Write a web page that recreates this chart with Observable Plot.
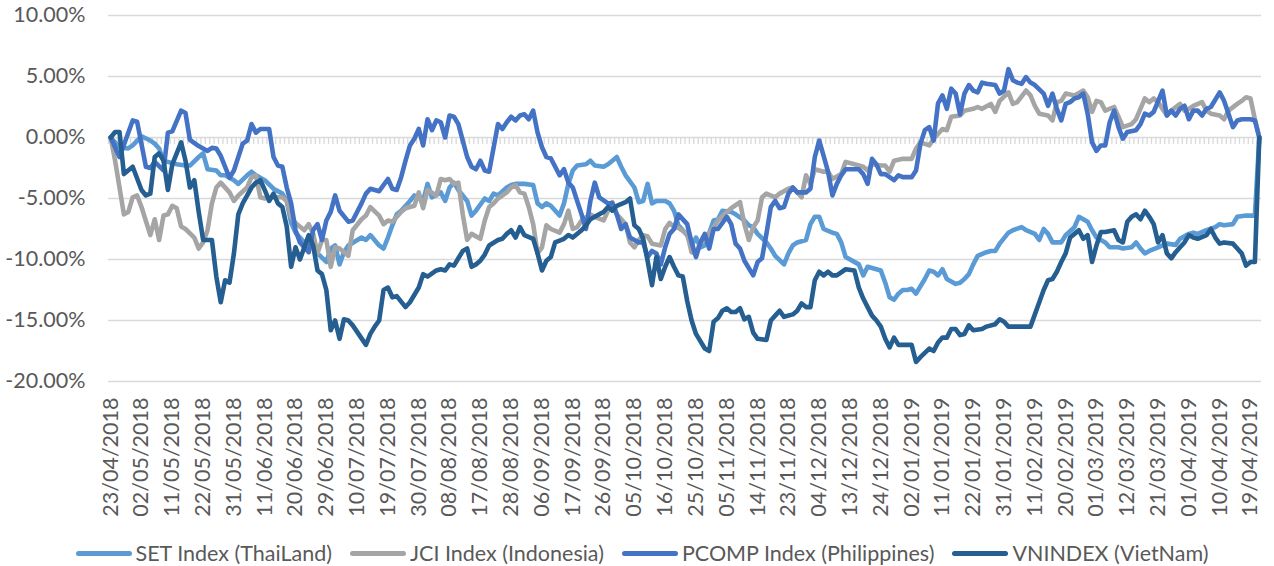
<!DOCTYPE html>
<html><head><meta charset="utf-8">
<script src="https://cdn.jsdelivr.net/npm/d3@7"></script>
<script src="https://cdn.jsdelivr.net/npm/@observablehq/plot@0.6"></script>
<style>
body{margin:0;background:#fff;font-family:Lato, sans-serif;}
#legend{display:flex;justify-content:center;align-items:center;gap:18px;height:40px;margin-top:3px;color:#595959;font-size:21.5px;padding-left:10px;}
.item{display:flex;align-items:center;gap:4px;white-space:nowrap;}
.sw{width:56px;height:5px;border-radius:2.5px;}
</style></head><body>
<div id="chart"></div>
<div id="legend"></div>
<script>
// Category axis: one category per trading day, 23/04/2018 .. 23/04/2019 (262 days); a label every 7th day
const dateLabels = ["23/04/2018","02/05/2018","11/05/2018","22/05/2018","31/05/2018","11/06/2018","20/06/2018","29/06/2018","10/07/2018","19/07/2018","30/07/2018","08/08/2018","17/08/2018","28/08/2018","06/09/2018","17/09/2018","26/09/2018","05/10/2018","16/10/2018","25/10/2018","05/11/2018","14/11/2018","23/11/2018","04/12/2018","13/12/2018","24/12/2018","02/01/2019","11/01/2019","22/01/2019","31/01/2019","11/02/2019","20/02/2019","01/03/2019","12/03/2019","21/03/2019","01/04/2019","10/04/2019","19/04/2019"];
const dayCount = 262;
const seriesNames = ["SET Index (ThaiLand)","JCI Index (Indonesia)","PCOMP Index (Philippines)","VNINDEX (VietNam)"];
const seriesColors = ["#5B9BD5","#A5A5A5","#4472C4","#255E91"];

// [trading-day index, % change]
const setIndex = [[0,0],[2,-0.8],[4,-0.9],[5,-0.65],[7,0.1],[9,-0.25],[10,-0.5],[11,-0.9],[12,-1.9],[13,-2.0],[15,-2.2],[17,-2.3],[18,-2.3],[20,-1.6],[21,-1.3],[22,-2.6],[24,-2.7],[25,-3.1],[26,-3.1],[28,-3.5],[29,-3.8],[31,-3.1],[32,-2.8],[33,-3.1],[35,-3.5],[37,-4.2],[39,-4.6],[40,-5.2],[41,-7.0],[42,-7.8],[43,-8.2],[45,-9.0],[46,-8.3],[47,-9.5],[49,-10.2],[50,-9.1],[51,-8.85],[52,-10.4],[53,-9.4],[54,-8.85],[57,-8.2],[58,-8.4],[59,-8.0],[61,-8.85],[62,-9.1],[63,-8.2],[64,-7.2],[65,-6.3],[66,-6.0],[68,-5.2],[69,-4.75],[71,-5.2],[72,-3.8],[73,-4.9],[75,-4.5],[76,-5.2],[77,-4.1],[78,-3.7],[79,-4.3],[81,-5.2],[82,-6.4],[83,-6.0],[85,-5.0],[86,-5.2],[87,-4.6],[88,-4.75],[90,-4.1],[91,-3.9],[92,-3.8],[94,-3.8],[96,-3.9],[97,-5.4],[98,-5.7],[99,-5.4],[100,-5.6],[102,-6.4],[103,-5.4],[104,-3.8],[105,-2.7],[106,-2.3],[108,-2.2],[109,-1.9],[110,-2.3],[112,-2.4],[113,-2.2],[114,-1.9],[115,-1.6],[116,-2.4],[117,-3.1],[119,-4.1],[120,-5.3],[121,-5.2],[122,-3.8],[123,-5.4],[124,-5.2],[126,-5.2],[127,-5.4],[128,-6.0],[129,-7.2],[131,-8.0],[132,-8.85],[133,-8.2],[134,-9.0],[135,-8.85],[137,-6.8],[138,-6.7],[139,-6.0],[141,-6.1],[142,-6.3],[144,-6.8],[145,-7.2],[146,-7.35],[147,-7.9],[149,-8.6],[150,-9.1],[151,-9.7],[153,-10.4],[154,-9.5],[155,-8.85],[156,-8.6],[158,-8.4],[159,-7.1],[160,-6.5],[161,-6.5],[162,-7.5],[164,-7.8],[165,-7.9],[166,-8.6],[167,-9.8],[170,-10.4],[171,-11.3],[172,-10.6],[174,-10.8],[175,-10.9],[176,-11.9],[177,-13.1],[178,-13.3],[179,-12.8],[180,-12.5],[181,-12.5],[182,-12.4],[183,-12.8],[185,-11.6],[186,-10.9],[187,-11.0],[188,-11.3],[189,-10.8],[190,-11.6],[192,-12.0],[193,-11.9],[194,-11.6],[195,-11.2],[196,-10.4],[197,-9.7],[199,-9.4],[200,-9.3],[201,-9.3],[202,-8.7],[204,-7.8],[205,-7.6],[207,-7.35],[208,-7.6],[210,-7.9],[211,-8.4],[212,-7.5],[213,-7.9],[214,-8.6],[216,-8.6],[217,-8.0],[219,-7.35],[220,-6.5],[222,-6.9],[223,-7.6],[224,-8.2],[225,-8.4],[226,-8.6],[227,-9.0],[229,-9.0],[230,-9.1],[232,-9.0],[233,-8.6],[234,-9.1],[235,-9.5],[236,-9.3],[238,-9.0],[239,-8.85],[240,-8.7],[242,-8.8],[243,-8.3],[245,-7.9],[246,-7.8],[247,-7.9],[249,-7.6],[251,-7.35],[252,-7.1],[253,-7.2],[255,-7.1],[256,-6.5],[258,-6.4],[260,-6.4],[261,0]];

const jciIndex = [[0,0],[1,-1.9],[3,-6.3],[4,-6.1],[5,-4.9],[6,-4.75],[7,-5.7],[9,-8.0],[10,-6.7],[11,-8.4],[12,-6.4],[13,-6.3],[14,-5.6],[15,-5.8],[16,-7.3],[17,-7.5],[19,-8.2],[20,-9.1],[21,-8.6],[22,-7.6],[23,-5.4],[24,-4.1],[25,-3.7],[27,-4.5],[28,-5.2],[29,-4.75],[31,-4.1],[32,-3.25],[33,-3.1],[34,-4.9],[35,-5.0],[37,-4.9],[39,-4.9],[40,-5.2],[41,-6.5],[42,-7.0],[44,-7.6],[45,-7.1],[46,-7.9],[47,-9.5],[48,-8.4],[49,-8.4],[50,-10.6],[51,-9.0],[52,-9.1],[54,-9.7],[55,-7.6],[57,-6.7],[58,-6.4],[59,-5.7],[61,-6.4],[62,-7.1],[63,-6.8],[64,-6.9],[66,-6.1],[67,-5.8],[69,-5.6],[70,-4.5],[71,-5.8],[72,-4.3],[74,-4.75],[75,-3.4],[76,-3.5],[77,-3.4],[78,-3.8],[79,-3.7],[80,-6.3],[81,-8.4],[82,-7.9],[84,-8.3],[85,-6.8],[86,-5.7],[87,-5.4],[88,-5.0],[90,-4.5],[91,-4.1],[92,-3.9],[93,-4.5],[94,-4.6],[95,-5.7],[96,-7.1],[97,-9.5],[98,-9.0],[99,-7.2],[100,-7.5],[102,-7.8],[103,-7.1],[104,-6.0],[105,-7.5],[106,-7.35],[107,-6.8],[109,-6.3],[110,-6.5],[112,-6.8],[113,-6.0],[114,-5.3],[115,-6.3],[117,-7.1],[118,-8.6],[119,-9.0],[120,-8.4],[121,-8.0],[122,-8.1],[123,-8.7],[125,-8.85],[126,-7.5],[127,-7.0],[128,-7.35],[129,-7.4],[131,-7.9],[132,-9.4],[133,-9.5],[134,-8.6],[135,-8.4],[137,-7.35],[138,-6.8],[140,-6.1],[141,-5.8],[143,-5.3],[144,-7.1],[145,-8.4],[146,-7.35],[147,-6.8],[148,-4.9],[149,-4.6],[151,-4.9],[152,-4.6],[154,-4.2],[155,-4.1],[157,-4.9],[158,-3.1],[159,-3.8],[160,-2.6],[162,-2.8],[163,-2.8],[164,-3.4],[166,-3.0],[167,-2.0],[169,-2.2],[171,-2.4],[172,-2.7],[173,-2.2],[175,-2.3],[176,-2.3],[177,-2.8],[178,-1.9],[180,-1.75],[182,-1.75],[183,-0.9],[184,-0.4],[186,-0.65],[187,-0.1],[189,0.7],[190,0.6],[191,1.7],[193,1.8],[194,2.2],[196,2.35],[197,2.5],[198,2.35],[200,2.75],[201,2.1],[202,3.0],[204,3.7],[205,2.75],[206,2.9],[208,3.85],[209,3.45],[210,2.6],[211,1.95],[213,1.8],[214,1.4],[215,2.9],[216,3.0],[217,3.6],[219,3.45],[221,3.85],[222,3.3],[223,2.1],[224,3.0],[225,2.9],[226,2.2],[228,2.5],[229,1.7],[230,0.85],[232,1.1],[233,1.5],[235,3.2],[236,2.9],[237,3.2],[238,2.9],[240,1.8],[241,2.2],[243,2.75],[244,2.2],[245,2.35],[246,2.6],[248,2.9],[249,2.2],[250,1.95],[252,1.8],[253,1.5],[254,2.2],[256,2.75],[257,3.0],[258,3.3],[259,3.2],[260,1.5],[261,0]];

const pcompIndex = [[0,0],[2,-1.6],[5,1.4],[6,1.3],[8,-2.4],[9,-2.5],[10,-2.0],[12,-2.7],[13,0.4],[14,0.5],[16,2.2],[17,2.0],[18,-0.2],[20,-0.7],[22,-1.1],[23,-0.85],[24,-0.9],[25,-1.5],[27,-3.3],[28,-2.7],[29,-1.6],[30,-0.5],[31,-0.25],[32,1.1],[33,0.4],[34,0.7],[36,0.7],[37,-1.6],[38,-2.3],[39,-2.4],[40,-4.1],[41,-5.4],[42,-7.6],[43,-8.6],[45,-9.4],[46,-7.6],[47,-7.1],[48,-8.4],[49,-6.8],[50,-6.1],[51,-4.75],[52,-6.0],[54,-6.9],[55,-6.8],[57,-5.4],[58,-4.6],[59,-4.2],[61,-4.4],[63,-3.4],[64,-4.2],[65,-4.3],[66,-3.25],[67,-1.9],[68,-0.65],[69,-0.1],[70,0.7],[71,-0.65],[72,1.5],[73,0.6],[74,1.4],[75,1.25],[76,0.0],[77,1.8],[78,1.7],[79,1.1],[81,-1.6],[82,-2.4],[83,-2.6],[84,-1.9],[85,-2.7],[86,-2.8],[88,1.1],[89,0.7],[90,1.25],[91,1.7],[92,1.4],[93,1.8],[94,1.9],[95,1.5],[96,2.2],[97,0.4],[98,-0.8],[99,-1.6],[100,-1.7],[102,-3.1],[103,-2.6],[104,-3.7],[105,-4.1],[106,-5.2],[107,-6.3],[108,-7.5],[109,-5.2],[110,-3.7],[111,-4.9],[113,-5.4],[114,-5.4],[115,-6.3],[116,-7.5],[117,-7.1],[118,-8.2],[120,-8.6],[121,-8.6],[122,-9.8],[123,-9.3],[124,-9.5],[125,-10.4],[126,-9.0],[127,-7.9],[128,-7.5],[129,-6.3],[131,-7.1],[132,-8.6],[133,-9.8],[134,-8.6],[135,-7.9],[136,-9.1],[137,-7.5],[138,-7.5],[140,-6.5],[141,-7.1],[142,-8.7],[143,-9.1],[144,-10.1],[146,-11.3],[147,-10.2],[148,-9.9],[149,-7.9],[150,-5.7],[151,-5.2],[152,-5.8],[153,-5.7],[154,-4.6],[155,-4.1],[156,-4.5],[158,-4.5],[159,-4.2],[160,-1.6],[161,-0.25],[162,-1.5],[163,-2.8],[164,-4.75],[165,-3.8],[166,-3.1],[167,-2.6],[170,-2.6],[171,-3.0],[172,-3.8],[173,-1.75],[174,-2.2],[175,-3.0],[176,-3.0],[178,-3.5],[179,-3.1],[180,-3.25],[182,-3.25],[183,-2.7],[184,-0.5],[185,0.6],[186,0.85],[187,-0.25],[188,2.8],[189,3.45],[190,2.35],[191,4.0],[192,3.6],[193,1.9],[194,3.6],[195,4.3],[196,3.85],[197,3.7],[198,4.5],[199,4.4],[201,4.3],[202,3.6],[203,3.85],[204,5.6],[205,4.7],[206,4.5],[207,4.4],[208,4.95],[209,4.5],[210,4.3],[212,3.6],[213,2.6],[214,3.6],[215,2.35],[216,1.4],[217,2.75],[218,2.9],[219,3.2],[220,3.3],[221,3.6],[222,1.95],[223,-0.4],[224,-1.1],[225,-0.65],[226,-0.65],[227,1.25],[228,2.2],[229,0.85],[230,-0.1],[231,0.45],[233,0.6],[234,1.1],[235,1.95],[236,1.8],[237,2.1],[239,3.85],[240,1.8],[241,2.2],[242,1.8],[243,2.35],[244,2.6],[245,1.5],[246,2.2],[247,2.2],[248,1.8],[249,2.35],[250,2.5],[252,3.7],[253,3.0],[254,1.95],[255,0.85],[256,1.4],[257,1.5],[259,1.5],[260,1.4],[261,0]];

const vnIndex = [[0,0],[1,0.45],[2,0.45],[3,-3.0],[5,-2.4],[7,-4.3],[8,-4.75],[9,-4.6],[10,-1.6],[11,-1.3],[12,-1.9],[13,-4.3],[14,-2.2],[16,-0.4],[17,-1.9],[18,-4.1],[19,-3.5],[20,-6.1],[21,-8.4],[23,-8.4],[24,-11.4],[25,-13.5],[26,-11.7],[27,-11.9],[28,-9.5],[29,-6.3],[30,-5.4],[32,-4.1],[33,-3.7],[34,-3.5],[35,-4.3],[36,-5.2],[37,-4.6],[38,-5.4],[39,-5.7],[40,-7.3],[41,-10.6],[42,-9.0],[43,-10.0],[44,-9.0],[45,-8.0],[46,-8.85],[47,-10.9],[48,-11.2],[49,-12.5],[50,-15.8],[51,-15.0],[52,-16.5],[53,-14.9],[54,-15.0],[55,-15.4],[58,-17.0],[59,-16.1],[60,-15.5],[61,-15.0],[62,-12.5],[63,-12.3],[64,-13.1],[65,-13.0],[67,-13.9],[68,-13.5],[70,-12.3],[71,-11.2],[72,-11.4],[74,-10.9],[75,-10.8],[76,-10.9],[77,-10.4],[78,-10.5],[79,-9.9],[80,-9.3],[81,-9.1],[82,-10.6],[83,-10.4],[84,-10.1],[85,-9.6],[86,-8.85],[88,-8.4],[89,-8.3],[90,-7.9],[91,-7.6],[92,-8.2],[93,-7.35],[94,-8.0],[96,-8.3],[97,-9.5],[98,-10.9],[99,-10.1],[100,-9.8],[101,-8.6],[103,-8.3],[104,-8.0],[105,-8.2],[107,-7.6],[108,-7.2],[109,-6.7],[111,-6.3],[112,-6.1],[113,-5.7],[114,-6.0],[115,-5.6],[117,-5.3],[118,-5.0],[119,-7.2],[120,-7.5],[121,-8.3],[122,-10.1],[123,-12.1],[124,-9.8],[125,-11.6],[126,-10.6],[127,-9.8],[128,-10.6],[129,-11.3],[130,-11.4],[131,-13.4],[132,-15.0],[133,-16.1],[135,-17.3],[136,-17.5],[137,-15.1],[138,-14.8],[139,-14.2],[140,-14.0],[141,-14.3],[142,-14.3],[143,-14.0],[144,-14.9],[145,-14.7],[146,-16.0],[147,-16.5],[149,-16.6],[150,-15.0],[151,-14.6],[152,-14.2],[153,-14.7],[155,-14.5],[156,-14.2],[157,-13.6],[158,-13.9],[159,-13.9],[160,-11.7],[161,-11.0],[162,-11.3],[163,-11.0],[164,-11.3],[165,-11.3],[167,-10.8],[169,-10.9],[170,-12.3],[171,-13.2],[172,-13.9],[173,-14.6],[174,-15.0],[175,-15.5],[176,-16.5],[177,-17.2],[178,-16.4],[179,-17.0],[180,-17.0],[182,-17.0],[183,-18.4],[184,-18.0],[186,-17.3],[187,-17.5],[188,-16.8],[189,-16.4],[190,-16.4],[191,-15.7],[192,-15.7],[193,-16.2],[194,-16.1],[195,-15.4],[196,-15.8],[198,-15.7],[199,-15.5],[201,-15.3],[202,-14.9],[203,-15.1],[204,-15.5],[206,-15.5],[209,-15.5],[210,-14.5],[211,-13.5],[212,-12.5],[213,-11.7],[214,-11.6],[215,-11.0],[216,-10.2],[217,-9.5],[218,-8.2],[219,-7.9],[220,-7.6],[221,-8.3],[222,-8.0],[223,-10.2],[224,-8.85],[225,-7.75],[226,-7.75],[228,-7.6],[229,-8.4],[230,-8.6],[231,-6.9],[232,-6.5],[233,-6.3],[234,-6.7],[235,-6.0],[236,-6.5],[237,-7.1],[238,-8.6],[239,-8.0],[240,-9.5],[241,-9.9],[242,-9.4],[243,-9.0],[244,-8.6],[245,-8.0],[246,-8.2],[247,-8.3],[249,-8.0],[250,-7.5],[251,-8.2],[252,-8.7],[253,-8.6],[255,-8.7],[256,-9.1],[257,-9.5],[258,-10.5],[259,-10.2],[260,-10.2],[261,0]];

const yTicks = [-20,-15,-10,-5,0,5,10];
const seriesData = [setIndex, jciIndex, pcompIndex, vnIndex];
const tickDays = dateLabels.map((_, k) => k * 7);
const boundaries = d3.range(-0.5, dayCount, 1);

const chart = Plot.plot({
  width: 1274, height: 530,
  marginLeft: 108, marginRight: 13, marginTop: 15, marginBottom: 149,
  style: {fontFamily: "Lato, sans-serif", fontSize: "21.5px", color: "#595959", background: "#fff"},
  x: {domain: [-0.5, dayCount - 0.5]},
  y: {domain: [-20, 10]},
  marks: [
    Plot.ruleY(yTicks.filter(d => d !== 0), {stroke: "#D9D9D9", strokeWidth: 1.3}),
    Plot.ruleY([0], {stroke: "#D9D9D9", strokeWidth: 1.3}),
    Plot.ruleX(boundaries, {x: d => d, y1: 0, y2: -0.57, stroke: "#D9D9D9", strokeWidth: 1.3}),
    Plot.axisY({ticks: yTicks, tickFormat: d => d.toFixed(2) + "%", tickSize: 0, tickPadding: 23, label: null, fontSize: 21.5}),
    Plot.axisX({ticks: tickDays, tickFormat: d => dateLabels[d / 7], tickRotate: -90, tickSize: 0, tickPadding: 16, label: null, fontSize: 21.5}),
    ...seriesData.map((data, k) => Plot.line(data, {
      x: d => d[0], y: d => d[1], stroke: seriesColors[k],
      strokeWidth: 4.6, strokeLinejoin: "round", strokeLinecap: "round"
    }))
  ]
});
document.getElementById("chart").append(chart);

const legend = document.getElementById("legend");
seriesNames.forEach((name, k) => {
  const item = document.createElement("div");
  item.className = "item";
  const sw = document.createElement("span");
  sw.className = "sw";
  sw.style.background = seriesColors[k];
  const label = document.createElement("span");
  label.textContent = name;
  item.append(sw, label);
  legend.append(item);
});
</script>
</body></html>
